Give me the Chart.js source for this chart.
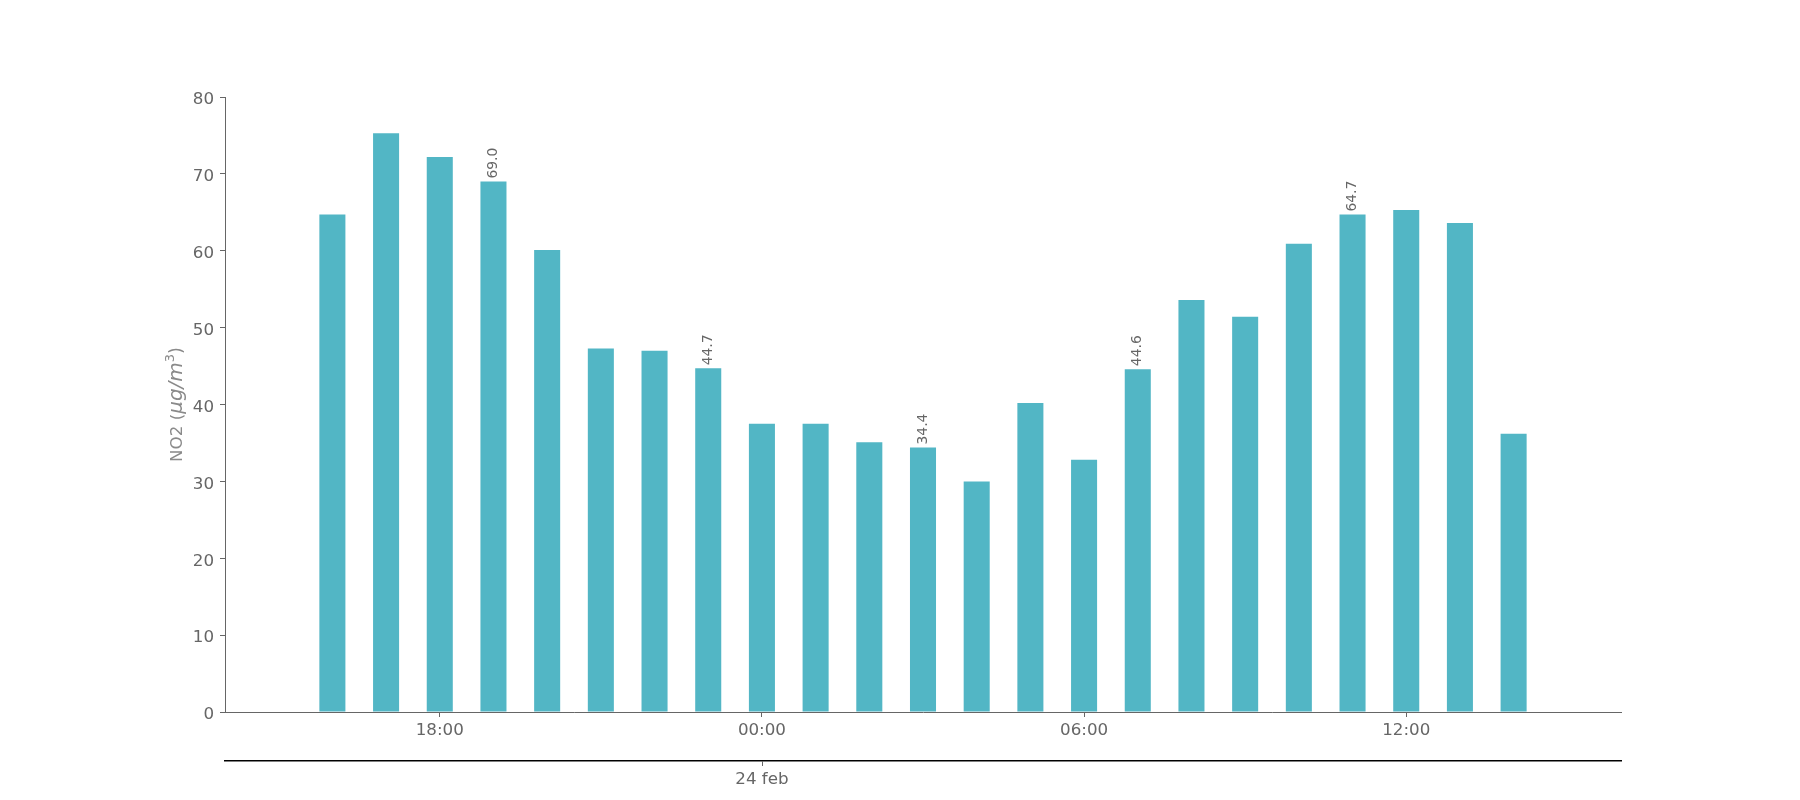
<!DOCTYPE html>
<html>
<head>
<meta charset="utf-8">
<script src="https://cdn.jsdelivr.net/npm/chart.js@4.4.1/dist/chart.umd.min.js"></script>
<style>
  html, body { margin: 0; padding: 0; background: #ffffff; }
  #wrap { width: 1800px; height: 800px; }
</style>
</head>
<body>
<div id="wrap"><canvas id="c" width="1800" height="800"></canvas></div>
<script>
// Hours relative to 00:00 on 24 feb (bars from 16:00 on 23 feb to 14:00 on 24 feb)
const hourOffsets = [-8, -7, -6, -5, -4, -3, -2, -1, 0, 1, 2, 3, 4, 5, 6, 7, 8, 9, 10, 11, 12, 13, 14];
const no2Values = [64.7, 75.3, 72.2, 69.0, 60.1, 47.3, 47.0, 44.7, 37.5, 37.5, 35.1, 34.4, 30.0, 40.2, 32.8, 44.6, 53.6, 51.4, 60.9, 64.7, 65.3, 63.6, 36.2];
const labelledBars = [3, 7, 11, 15, 19];
const timeTickHours = [-6, 0, 6, 12];
const timeTickLabels = ['18:00', '00:00', '06:00', '12:00'];
const dateTickHours = [0];
const dateTickLabels = ['24 feb'];
const yTicks = [0, 10, 20, 30, 40, 50, 60, 70, 80];
const xMin = -10, xMax = 16;

const FONT = 'DejaVu Sans';
const TICK_COLOR = '#666666';
const BAR_COLOR = '#52b6c5';

const barLabelPlugin = {
  id: 'barLabels',
  afterDatasetsDraw(chart) {
    const ctx = chart.ctx;
    const meta = chart.getDatasetMeta(0);
    ctx.save();
    ctx.font = '13.9px "' + FONT + '"';
    ctx.fillStyle = '#666666';
    ctx.textAlign = 'left';
    ctx.textBaseline = 'middle';
    labelledBars.forEach(i => {
      const el = meta.data[i];
      ctx.save();
      ctx.translate(el.x, el.y - 3);
      ctx.rotate(-Math.PI / 2);
      ctx.fillText(no2Values[i].toFixed(1), 0, 0);
      ctx.restore();
    });
    ctx.restore();
  }
};

// tick marks of the secondary (date) axis
const dateTickPlugin = {
  id: 'dateTicks',
  afterDraw(chart) {
    const s = chart.scales.x2;
    const ctx = chart.ctx;
    ctx.save();
    ctx.strokeStyle = TICK_COLOR;
    ctx.lineWidth = 1;
    dateTickHours.forEach(v => {
      const px = Math.round(s.getPixelForValue(v)) + 0.5;
      ctx.beginPath();
      ctx.moveTo(px, s.top);
      ctx.lineTo(px, s.top + 5);
      ctx.stroke();
    });
    ctx.restore();
  }
};

const yTitlePlugin = {
  id: 'yTitle',
  afterDraw(chart) {
    const ctx = chart.ctx;
    const area = chart.chartArea;
    const parts = [
      { t: 'NO2 (', f: '16.7px "' + FONT + '"', dy: 0 },
      { t: '\u03bcg/m', f: 'italic 20px "' + FONT + '"', dy: 0 },
      { t: '3', f: '13px "' + FONT + '"', dy: -8 },
      { t: ')', f: '17.5px "' + FONT + '"', dy: 0 }
    ];
    ctx.save();
    let total = 0;
    parts.forEach(p => { ctx.font = p.f; p.w = ctx.measureText(p.t).width; total += p.w; });
    ctx.translate(182, (area.top + area.bottom) / 2);
    ctx.rotate(-Math.PI / 2);
    ctx.fillStyle = '#8a8a8a';
    ctx.textBaseline = 'alphabetic';
    ctx.textAlign = 'left';
    let x = -total / 2;
    parts.forEach(p => { ctx.font = p.f; ctx.fillText(p.t, x, p.dy); x += p.w; });
    ctx.restore();
  }
};

new Chart(document.getElementById('c'), {
  type: 'bar',
  data: {
    datasets: [{
      label: 'NO2',
      data: hourOffsets.map((h, i) => ({ x: h, y: no2Values[i] })),
      backgroundColor: BAR_COLOR,
      borderWidth: 0,
      categoryPercentage: 1.0,
      barPercentage: 0.485
    }]
  },
  options: {
    responsive: false,
    animation: false,
    devicePixelRatio: 1,
    layout: { padding: { left: 0, right: 179, top: 97, bottom: 0 } },
    plugins: { legend: { display: false }, tooltip: { enabled: false } },
    scales: {
      x: {
        type: 'linear',
        position: 'bottom',
        min: xMin, max: xMax,
        offset: false,
        weight: 0,
        grid: { display: true, drawOnChartArea: false, drawTicks: true, tickLength: 5, tickColor: TICK_COLOR, offset: false },
        border: { display: true, color: TICK_COLOR, width: 1 },
        afterBuildTicks: s => { s.ticks = timeTickHours.map(v => ({ value: v })); },
        afterFit: s => { s.height = 49; },
        ticks: {
          autoSkip: false, maxRotation: 0, padding: 4,
          color: TICK_COLOR, font: { family: FONT, size: 16.7 },
          callback: (v, i) => timeTickLabels[i]
        }
      },
      x2: {
        type: 'linear',
        position: 'bottom',
        min: xMin, max: xMax,
        offset: false,
        weight: 1,
        grid: { display: false, drawOnChartArea: false, drawTicks: false, tickLength: 5 },
        border: { display: true, color: '#000000', width: 1.6 },
        afterBuildTicks: s => { s.ticks = dateTickHours.map(v => ({ value: v })); },
        afterFit: s => { s.height = 39; },
        ticks: {
          autoSkip: false, maxRotation: 0, padding: 9,
          color: TICK_COLOR, font: { family: FONT, size: 16.7 },
          callback: (v, i) => dateTickLabels[i]
        }
      },
      y: {
        type: 'linear',
        min: 0, max: 80,
        grid: { display: true, drawOnChartArea: false, drawTicks: true, tickLength: 5, tickColor: TICK_COLOR },
        border: { display: true, color: TICK_COLOR, width: 1 },
        afterBuildTicks: s => { s.ticks = yTicks.map(v => ({ value: v })); },
        afterFit: s => { s.width = 225; },
        ticks: {
          padding: 6, labelOffset: 3,
          color: TICK_COLOR, font: { family: FONT, size: 16.7 },
          callback: v => String(v)
        }
      }
    }
  },
  plugins: [barLabelPlugin, dateTickPlugin, yTitlePlugin]
});
</script>
</body>
</html>
